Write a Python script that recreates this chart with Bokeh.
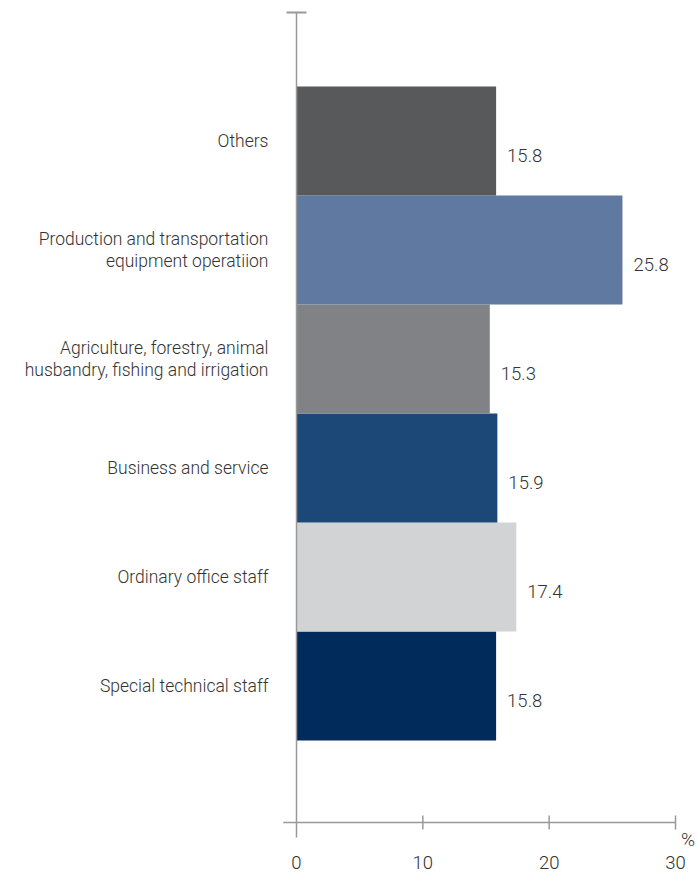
from bokeh.plotting import figure
from bokeh.models import ColumnDataSource, FixedTicker
from bokeh.core.properties import value
from bokeh.embed import file_html
from bokeh.resources import INLINE

categories = ["Special technical staff", "Ordinary office staff", "Business and service",
              "Agriculture, forestry, animal\nhusbandry, fishing and irrigation",
              "Production and transportation\nequipment operatiion", "Others"]
values = [15.8, 17.4, 15.9, 15.3, 25.8, 15.8]
colors = ["#002b5b", "#d2d3d5", "#1b4876", "#808285", "#5f79a0", "#58595b"]
x_ticks = [0, 10, 20, 30]
FONT = "Roboto Light"
TXT = "#333333"
AX = "#999999"

pos = list(range(len(categories)))
src = ColumnDataSource(dict(y=pos, v=values, c=colors,
                            lab=[f"{v:.1f}" for v in values]))

p = figure(width=698, height=876, x_range=(-1.108, 31.82), y_range=(-1.4725, 6.2156),
           output_backend="svg", toolbar_location=None,
           min_border_left=282, min_border_right=0, min_border_top=8, min_border_bottom=30)
p.outline_line_color = None
p.grid.grid_line_color = None
p.background_fill_color = "white"
p.border_fill_color = "white"

p.hbar(y="y", left=0, right="v", height=1.0, fill_color="c", line_color=None, source=src)
p.text(x="v", y="y", text="lab", x_offset=11, y_offset=15, text_baseline="middle",
       text_align="left", text_font=value(FONT), text_font_size="18.5px",
       text_color=TXT, source=src)

# axis lines drawn in data space
yb = -1.2523
p.segment(x0=[-1.05], y0=[yb], x1=[30], y1=[yb], line_color=AX, line_width=1.5)
p.segment(x0=x_ticks[1:], y0=[yb + 0.064] * 3, x1=x_ticks[1:], y1=[yb - 0.064] * 3,
          line_color=AX, line_width=1.5)
p.segment(x0=[0], y0=[6.18], x1=[0], y1=[-1.39], line_color=AX, line_width=1.5)
p.segment(x0=[-0.79], y0=[6.18], x1=[0.79], y1=[6.18], line_color=AX, line_width=2)
p.text(x=[31.0], y=[-1.41], text=["%"], text_baseline="middle", text_align="center",
       text_font=value(FONT), text_font_size="19px", text_color=TXT)

p.xaxis.ticker = FixedTicker(ticks=x_ticks)
p.xaxis.axis_line_color = None
p.xaxis.major_tick_line_color = None
p.xaxis.minor_tick_line_color = None
p.xaxis.major_tick_out = 0
p.xaxis.major_tick_in = 0
p.xaxis.major_label_standoff = 9
p.xaxis.major_label_text_font = FONT
p.xaxis.major_label_text_font_size = "18.5px"
p.xaxis.major_label_text_color = TXT

p.yaxis.ticker = FixedTicker(ticks=pos)
p.yaxis.major_label_overrides = {i: c for i, c in zip(pos, categories)}
p.yaxis.axis_line_color = None
p.yaxis.major_tick_line_color = None
p.yaxis.minor_tick_line_color = None
p.yaxis.major_tick_out = 0
p.yaxis.major_tick_in = 0
p.yaxis.major_label_standoff = 14
p.yaxis.major_label_text_font = FONT
p.yaxis.major_label_text_font_size = "17.5px"
p.yaxis.major_label_text_line_height = 1.12
p.yaxis.major_label_text_color = TXT
p.yaxis.major_label_text_align = "right"

open("out.html", "w").write(file_html(p, INLINE))
